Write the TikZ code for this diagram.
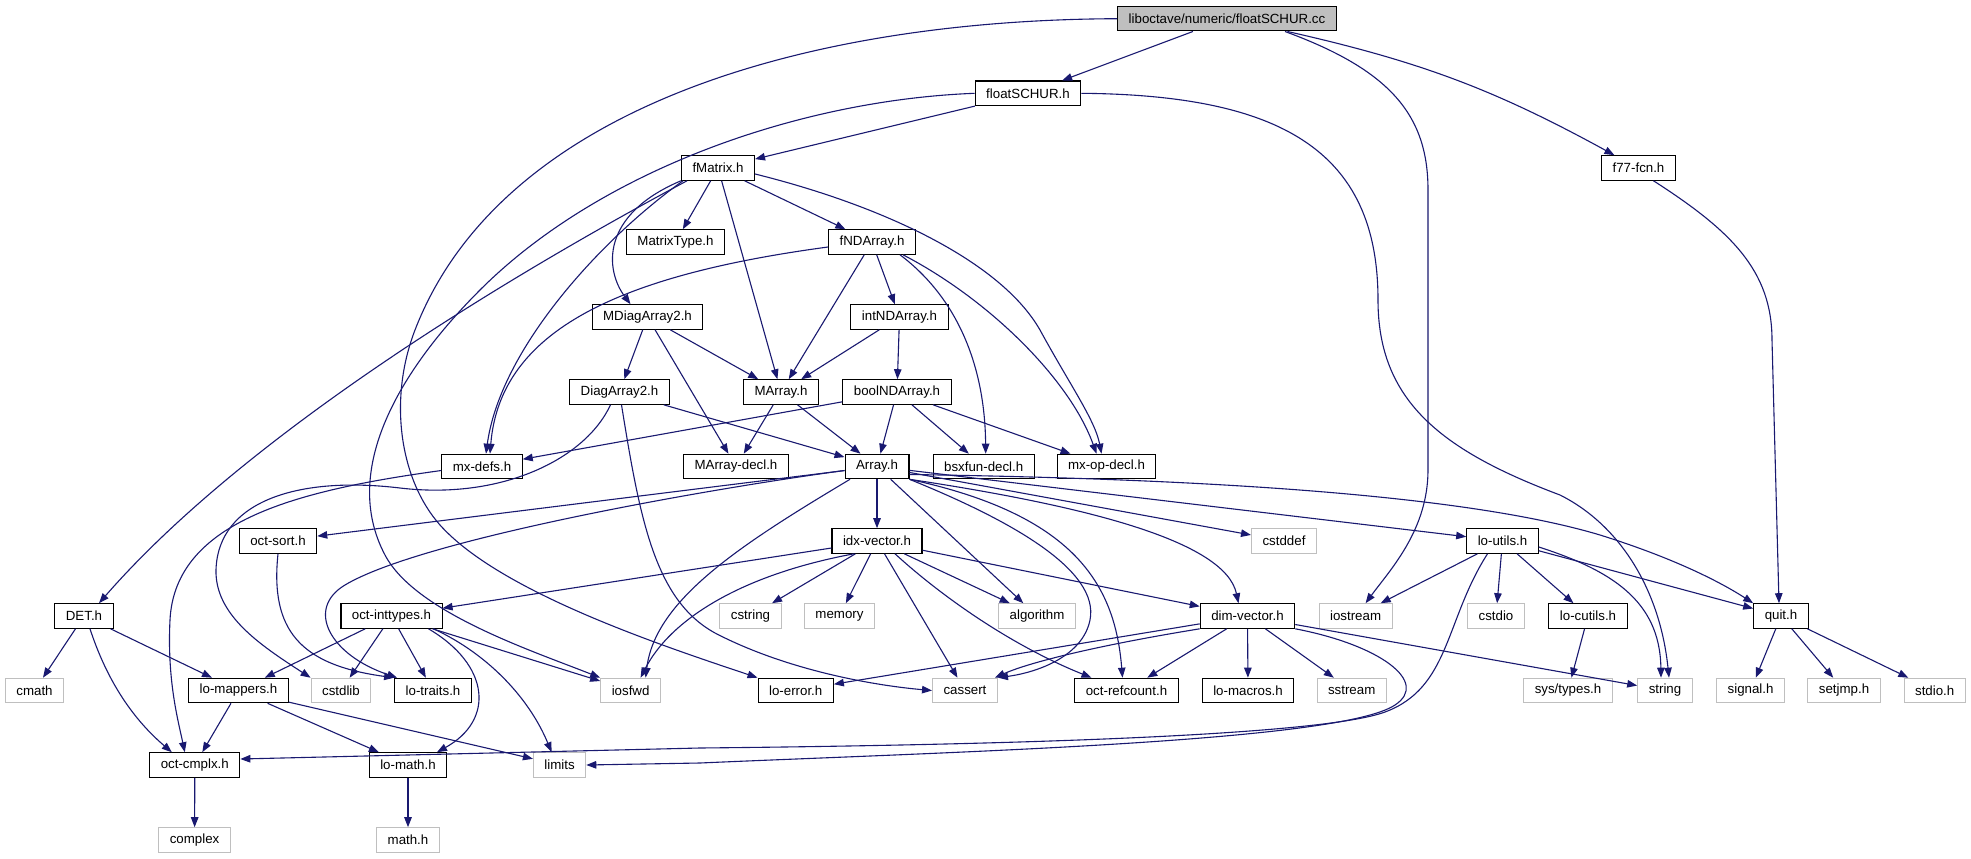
\documentclass[tikz,border=0pt]{standalone}
\usepackage{fontspec}
\setmainfont{Liberation Sans}
\usetikzlibrary{arrows.meta}
\definecolor{arrowblue}{HTML}{191970}
\definecolor{sysgray}{HTML}{BFBFBF}

\begin{document}
\begin{tikzpicture}[->,>={Triangle[length=10pt,width=7.5pt]},x=1pt,y=1pt,
    main node/.style={rectangle,draw=black,line width=1.1pt,minimum height=24.5pt,inner xsep=11pt,inner ysep=0pt,font=\fontsize{13.3}{15}\selectfont},
    sys node/.style={main node,draw=sysgray},
    top node/.style={main node,fill=sysgray},
    link/.style={draw=arrowblue,line width=1.1pt}]
    \fill[white,-] (0,0) rectangle (1971,-859);
    \useasboundingbox (0,0) rectangle (1971,-859);

    \node[top node] (root) at (1227,-18.7) {liboctave/numeric/floatSCHUR.cc};
    \node[main node] (floatschur) at (1028,-93.3) {floatSCHUR.h};
    \node[main node] (fmatrix) at (718,-168) {fMatrix.h};
    \node[main node] (ffcn) at (1638.5,-168) {f77-fcn.h};
    \node[main node] (matrixtype) at (675.5,-242) {MatrixType.h};
    \node[main node] (fndarray) at (872,-242) {fNDArray.h};
    \node[main node] (mdiag) at (647.5,-317) {MDiagArray2.h};
    \node[main node] (intnd) at (899.5,-317) {intNDArray.h};
    \node[main node] (diag) at (619.5,-392) {DiagArray2.h};
    \node[main node] (marray) at (781,-392) {MArray.h};
    \node[main node] (boolnd) at (897,-392) {boolNDArray.h};
    \node[main node] (mxdefs) at (482,-466.5) {mx-defs.h};
    \node[main node] (marraydecl) at (736,-466.5) {MArray-decl.h};
    \node[main node] (array) at (877,-466.5) {Array.h};
    \node[main node] (bsxfun) at (983.7,-466.5) {bsxfun-decl.h};
    \node[main node] (mxop) at (1106.5,-466.5) {mx-op-decl.h};
    \node[main node] (octsort) at (278,-541) {oct-sort.h};
    \node[main node] (idxvec) at (877,-541) {idx-vector.h};
    \node[sys node] (cstddef) at (1284,-541) {cstddef};
    \node[main node] (loutils) at (1502.5,-541) {lo-utils.h};
    \node[main node] (det) at (84,-616) {DET.h};
    \node[main node] (inttypes) at (391.5,-616) {oct-inttypes.h};
    \node[sys node] (cstring) at (750.5,-616) {cstring};
    \node[sys node] (memory) at (839.5,-616) {memory};
    \node[sys node] (algorithm) at (1037,-616) {algorithm};
    \node[main node] (dimvec) at (1247.5,-616) {dim-vector.h};
    \node[sys node] (iostream) at (1355.6,-616) {iostream};
    \node[sys node] (cstdio) at (1496,-616) {cstdio};
    \node[main node] (locutils) at (1588,-616) {lo-cutils.h};
    \node[main node] (quit) at (1781,-616) {quit.h};
    \node[sys node] (cmath) at (34.5,-690.5) {cmath};
    \node[main node] (mappers) at (238.5,-690.5) {lo-mappers.h};
    \node[sys node] (cstdlib) at (341,-690.5) {cstdlib};
    \node[main node] (traits) at (433,-690.5) {lo-traits.h};
    \node[sys node] (iosfwd) at (630.6,-690.5) {iosfwd};
    \node[main node] (loerror) at (795.7,-690.5) {lo-error.h};
    \node[sys node] (cassert) at (965,-690.5) {cassert};
    \node[main node] (refcount) at (1126.5,-690.5) {oct-refcount.h};
    \node[main node] (macros) at (1248,-690.5) {lo-macros.h};
    \node[sys node] (sstream) at (1351.7,-690.5) {sstream};
    \node[sys node] (systypes) at (1568,-690.5) {sys/types.h};
    \node[sys node] (string) at (1665,-690.5) {string};
    \node[sys node] (signal) at (1750.6,-690.5) {signal.h};
    \node[sys node] (setjmp) at (1844,-690.5) {setjmp.h};
    \node[sys node] (stdio) at (1934.7,-690.5) {stdio.h};
    \node[main node] (cmplx) at (194.8,-765) {oct-cmplx.h};
    \node[main node] (lomath) at (408,-765) {lo-math.h};
    \node[sys node] (limits) at (559.6,-765) {limits};
    \node[sys node] (complex) at (194.6,-840) {complex};
    \node[sys node] (mathh) at (408,-840) {math.h};

    \path[every edge/.style={link}]
        (root) edge (floatschur)
        (root) edge[bend left=8] (ffcn)
        (floatschur) edge (fmatrix)

        (fmatrix) edge (matrixtype)
        (fmatrix) edge (fndarray)
        (fmatrix) edge (marray)

        (fndarray) edge (intnd)
        (fndarray) edge (marray)

        (mdiag) edge (diag)
        (mdiag) edge (marray)
        (mdiag) edge (marraydecl)

        (intnd) edge (marray)
        (intnd) edge (boolnd)

        (diag) edge (array)
        (marray) edge (marraydecl)
        (marray) edge (array)

        (boolnd) edge (mxdefs)
        (boolnd) edge (array)
        (boolnd) edge (bsxfun)
        (boolnd) edge (mxop)

        (array) edge (octsort)
        (array) edge (idxvec)
        (array) edge (algorithm)
        (array) edge (cstddef)
        (array) edge (loutils)

        (idxvec) edge (inttypes)
        (idxvec) edge (cstring)
        (idxvec) edge (memory)
        (idxvec) edge (cassert)
        (idxvec) edge (algorithm)
        (idxvec) edge (dimvec)

        (inttypes) edge (mappers)
        (inttypes) edge (cstdlib)
        (inttypes) edge (traits)
        (inttypes) edge (iosfwd)

        (det) edge (cmath)
        (det) edge (mappers)
        (mappers) edge (cmplx)
        (mappers) edge (lomath)
        (mappers) edge (limits)
        (cmplx) edge (complex)
        (lomath) edge (mathh)

        (dimvec) edge (loerror)
        (dimvec) edge (refcount)
        (dimvec) edge (macros)
        (dimvec) edge (sstream)
        (dimvec) edge (string)

        (loutils) edge (iostream)
        (loutils) edge (cstdio)
        (loutils) edge (locutils)
        (loutils) edge (quit)
        (locutils) edge (systypes)

        (quit) edge (signal)
        (quit) edge (setjmp)
        (quit) edge (stdio)
        ;

    % long routed includes
    \draw[link] ([xshift=58pt]root.south) .. controls (1390,-70) and (1428,-115) .. (1428,-190) -- (1428,-470) .. controls (1428,-530) and (1390,-570) .. ([xshift=10pt]iostream.north);
    \draw[link] (root.west) .. controls (800,-20) and (500,-110) .. (415,-330) .. controls (388,-400) and (400,-480) .. (440,-525) .. controls (500,-592) and (660,-645) .. (loerror.north west);
    \draw[link] (floatschur.west) .. controls (800,-100) and (600,-170) .. (480,-290) .. controls (400,-370) and (340,-470) .. (385,-555) .. controls (415,-612) and (530,-650) .. (iosfwd.north west);
    \draw[link] (floatschur.east) .. controls (1280,-95) and (1378,-150) .. (1378,-300) .. controls (1378,-400) and (1440,-450) .. (1560,-495) .. controls (1620,-525) and (1660,-590) .. ([xshift=4pt]string.north);
    \draw[link] ([xshift=15pt]ffcn.south) .. controls (1730,-230) and (1772,-270) .. (1772,-340) -- ([xshift=-2pt]quit.north);

    \draw[link] ([yshift=-6pt]fmatrix.east) .. controls (880,-205) and (1000,-260) .. (1040,-330) .. controls (1070,-385) and (1095,-420) .. ([xshift=-5pt]mxop.north);
    \draw[link] (fmatrix.south west) .. controls (600,-215) and (605,-270) .. ([xshift=-17pt]mdiag.north);
    \draw[link] ([xshift=-35pt]fmatrix.south) .. controls (600,-240) and (500,-350) .. ([xshift=4pt]mxdefs.north);
    \draw[link] ([xshift=-31pt]fmatrix.south) .. controls (520,-270) and (250,-430) .. ([xshift=15pt]det.north);

    \draw[link] ([xshift=31pt]fndarray.south) .. controls (990,-300) and (1070,-380) .. ([xshift=-10pt]mxop.north);
    \draw[link] ([xshift=28pt]fndarray.south) .. controls (960,-300) and (985,-370) .. ([xshift=2pt]bsxfun.north);
    \draw[link] ([yshift=-5pt]fndarray.west) .. controls (620,-275) and (500,-330) .. ([xshift=8pt]mxdefs.north);

    \draw[link] ([xshift=-9pt]diag.south) .. controls (585,-460) and (500,-500) .. (400,-488) .. controls (300,-476) and (218,-500) .. (216,-570) .. controls (215,-615) and (260,-645) .. (cstdlib.north west);
    \draw[link] ([xshift=2pt]diag.south) .. controls (640,-520) and (655,-600) .. (715,-633) .. controls (790,-672) and (880,-686) .. (cassert.west);
    \draw[link] ([yshift=-4pt]mxdefs.west) .. controls (300,-490) and (175,-520) .. (170,-620) .. controls (167,-680) and (178,-720) .. ([xshift=-10pt]cmplx.north);

    \draw[link] ([yshift=-4pt]array.west) .. controls (700,-490) and (420,-540) .. (345,-585) .. controls (305,-609) and (330,-655) .. ([xshift=3pt]traits.north west);
    \draw[link] ([xshift=-27pt]array.south) .. controls (740,-545) and (655,-600) .. ([xshift=15pt]iosfwd.north);
    \draw[link] (array.south east) .. controls (1010,-520) and (1100,-570) .. (1090,-620) .. controls (1083,-655) and (1040,-672) .. (cassert.north east);
    \draw[link] (array.south east) .. controls (1075,-515) and (1115,-585) .. ([xshift=-4pt]refcount.north);
    \draw[link] (array.south east) .. controls (1080,-505) and (1225,-540) .. ([xshift=-9pt]dimvec.north);
    \draw[link] ([yshift=-8pt]array.east) .. controls (1150,-478) and (1450,-490) .. (1600,-535) .. controls (1680,-560) and (1725,-585) .. (quit.north west);

    \draw[link] ([xshift=-23pt]idxvec.south) .. controls (740,-575) and (670,-620) .. ([xshift=10pt]iosfwd.north);
    \draw[link] ([xshift=18pt]idxvec.south) .. controls (940,-595) and (1010,-645) .. ([xshift=-35pt]refcount.north);

    \draw[link] ([xshift=37pt]inttypes.south) .. controls (490,-665) and (495,-720) .. ([xshift=29pt]lomath.north);
    \draw[link] ([xshift=42pt]inttypes.south) .. controls (490,-655) and (530,-700) .. ([xshift=-8pt]limits.north);
    \draw[link] ([xshift=6pt]det.south) .. controls (110,-690) and (140,-725) .. ([xshift=-23pt]cmplx.north);
    \draw[link] (octsort.south) .. controls (270,-630) and (300,-665) .. (traits.north west);

    \draw[link] (dimvec.south west) .. controls (1100,-645) and (1030,-662) .. ([xshift=-3pt]cassert.north east);
    \draw[link] (dimvec.south east) .. controls (1380,-645) and (1430,-682) .. (1395,-705) .. controls (1340,-742) and (950,-752) .. (700,-763) -- (limits.east);
    \draw[link] ([xshift=-15pt]loutils.south) .. controls (1445,-620) and (1450,-688) .. (1385,-712) .. controls (1320,-736) and (1000,-745) .. (700,-748) -- ([yshift=6pt]cmplx.east);
    \draw[link] ([yshift=-6pt]loutils.east) .. controls (1610,-570) and (1660,-600) .. ([xshift=-4pt]string.north);
\end{tikzpicture}
\end{document}
